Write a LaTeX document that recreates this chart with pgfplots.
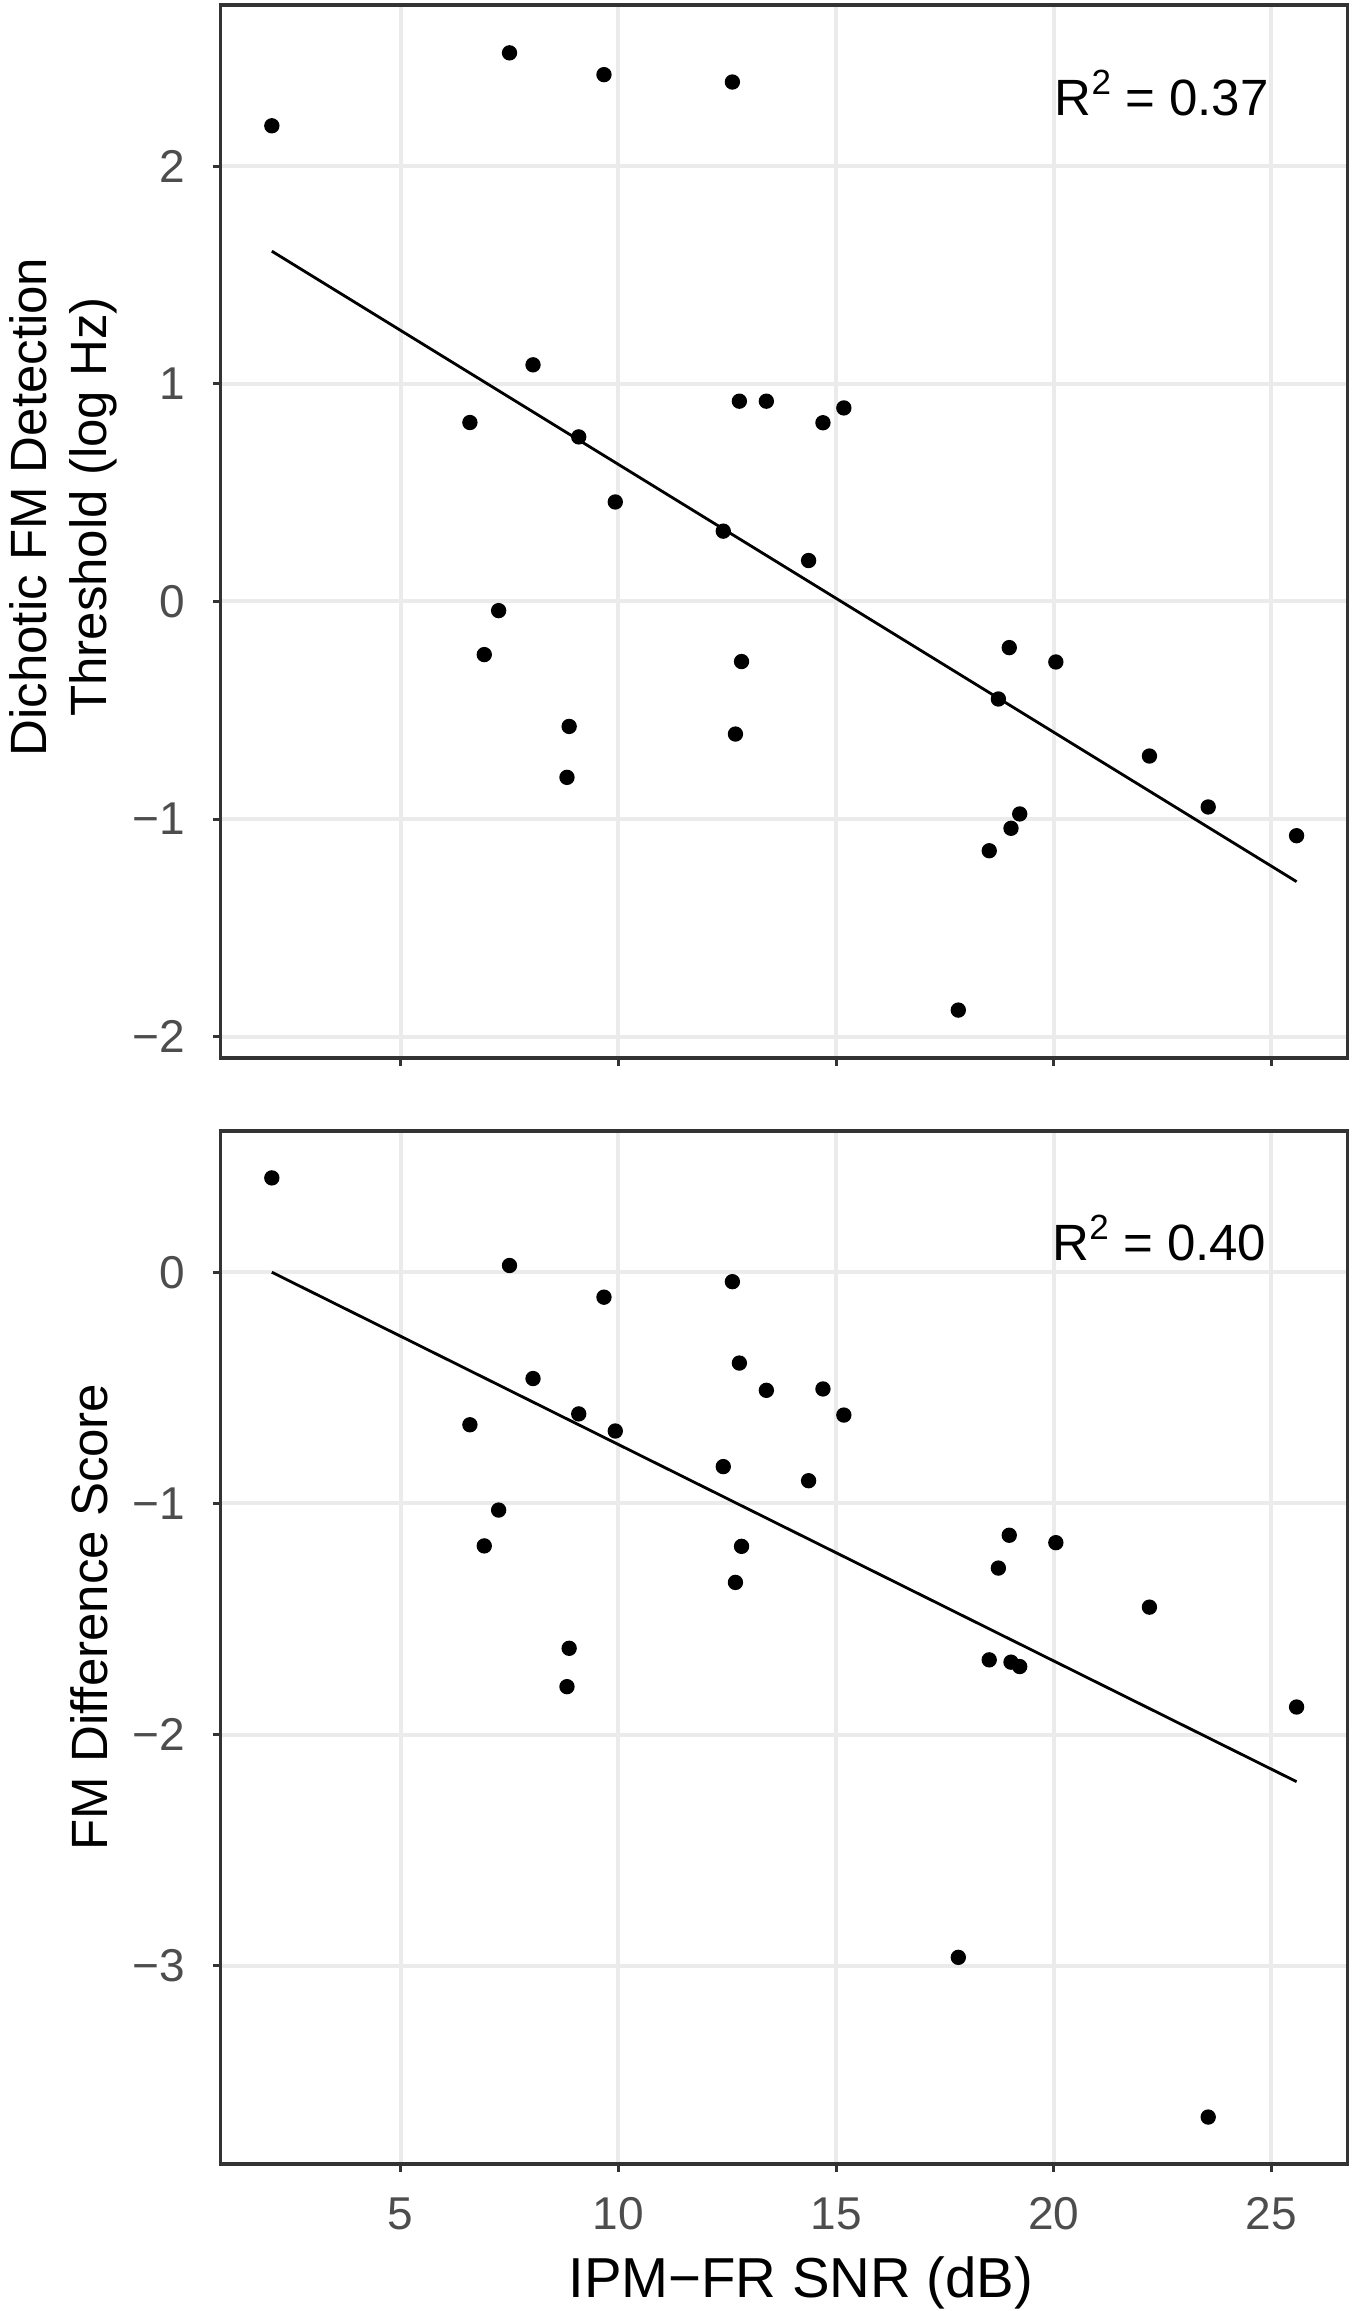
\documentclass[border=0pt]{standalone}
\usepackage{pgfplots}
\pgfplotsset{compat=1.18}
\usepackage{pgfplotstable}
\usepackage{fontspec}
\setmainfont{Liberation Sans}
\definecolor{framec}{HTML}{333333}
\definecolor{gridc}{HTML}{EBEBEB}
\definecolor{tickc}{HTML}{4D4D4D}

\pgfplotstableread{
x y
2.04 2.185
6.59 0.822
7.25 -0.042
6.92 -0.244
7.50 2.52
8.04 1.087
8.87 -0.574
8.82 -0.808
9.09 0.756
9.67 2.42
9.93 0.457
12.41 0.323
12.62 2.386
12.69 -0.609
12.78 0.92
12.83 -0.276
13.40 0.92
14.37 0.188
14.70 0.821
15.18 0.889
17.81 -1.877
18.52 -1.145
18.73 -0.448
18.98 -0.212
19.02 -1.042
19.22 -0.976
20.05 -0.278
22.20 -0.71
23.55 -0.944
25.58 -1.076
}\toptable

\pgfplotstableread{
x y
2.04 0.408
6.59 -0.66
7.25 -1.029
6.92 -1.184
7.50 0.029
8.04 -0.46
8.87 -1.627
8.82 -1.793
9.09 -0.613
9.67 -0.108
9.93 -0.687
12.41 -0.841
12.62 -0.041
12.69 -1.342
12.78 -0.393
12.83 -1.186
13.40 -0.511
14.37 -0.902
14.70 -0.505
15.18 -0.618
17.81 -2.964
18.52 -1.677
18.73 -1.28
18.98 -1.138
19.02 -1.687
19.22 -1.706
20.05 -1.17
22.20 -1.449
23.55 -3.655
25.58 -1.881
}\bottable

\newcommand{\rsq}{R\raisebox{0.78ex}{\fontsize{10.5}{10.5}\selectfont 2}}

\pgfplotsset{
  myaxis/.style={
    scale only axis,
    anchor=south west,
    width=338.16pt,
    xmin=0.863, xmax=26.757,
    axis line style={color=framec, line width=1pt},
    grid=major,
    major grid style={color=gridc, line width=1.2pt},
    tick align=outside,
    tick pos=left,
    major tick length=2.3pt,
    major tick style={color=framec, line width=0.9pt},
    minor tick num=0,
    xtick={5,10,15,20,25},
    ticklabel style={font=\fontsize{13.8}{16}\selectfont, text=tickc},
    yticklabel style={anchor=east, inner sep=0pt, xshift=-8.3pt},
    xticklabel style={anchor=base, inner sep=0pt, yshift=-17.25pt},
  }
}

\begin{document}
\begin{tikzpicture}
\path[use as bounding box] (0,0) rectangle (405.3pt,693.3pt);

% top panel
\begin{axis}[myaxis,
  at={(66.18pt,375.9pt)},
  height=315.9pt,
  ymin=-2.097, ymax=2.74,
  ytick={-2,-1,0,1,2},
  yticklabels={−2,−1,0,1,2},
  xticklabels={},
]
\addplot[black, line width=0.85pt] coordinates {(2.04,1.609) (25.58,-1.287)};
\addplot[only marks, mark=*, mark size=2.1pt, black] table[x=x,y=y] {\toptable};
\node[anchor=base east, inner sep=0pt, font=\fontsize{15.3}{18}\selectfont] at (axis cs:24.95,2.23) {\rsq{} = 0.37};
\end{axis}

% bottom panel
\begin{axis}[myaxis,
  at={(66.18pt,44.1pt)},
  height=309.9pt,
  ymin=-3.858, ymax=0.611,
  ytick={-3,-2,-1,0},
  yticklabels={−3,−2,−1,0},
  xticklabels={5,10,15,20,25},
]
\addplot[black, line width=0.85pt] coordinates {(2.04,0.0) (25.58,-2.204)};
\addplot[only marks, mark=*, mark size=2.1pt, black] table[x=x,y=y] {\bottable};
\node[anchor=base east, inner sep=0pt, font=\fontsize{15.3}{18}\selectfont] at (axis cs:24.9,0.05) {\rsq{} = 0.40};
\end{axis}

% axis titles
\node[rotate=90, anchor=base, font=\fontsize{15.3}{18}\selectfont] at (14.0pt,541.2pt) {Dichotic FM Detection};
\node[rotate=90, anchor=base, font=\fontsize{15.3}{18}\selectfont] at (32.0pt,541.2pt) {Threshold (log Hz)};
\node[rotate=90, anchor=base, font=\fontsize{15.3}{18}\selectfont] at (32.1pt,208.2pt) {FM Difference Score};
\node[anchor=base west, inner sep=0pt, font=\fontsize{16.9}{20}\selectfont] at (170.3pt,4.2pt) {IPM−FR SNR (dB)};
\end{tikzpicture}
\end{document}
